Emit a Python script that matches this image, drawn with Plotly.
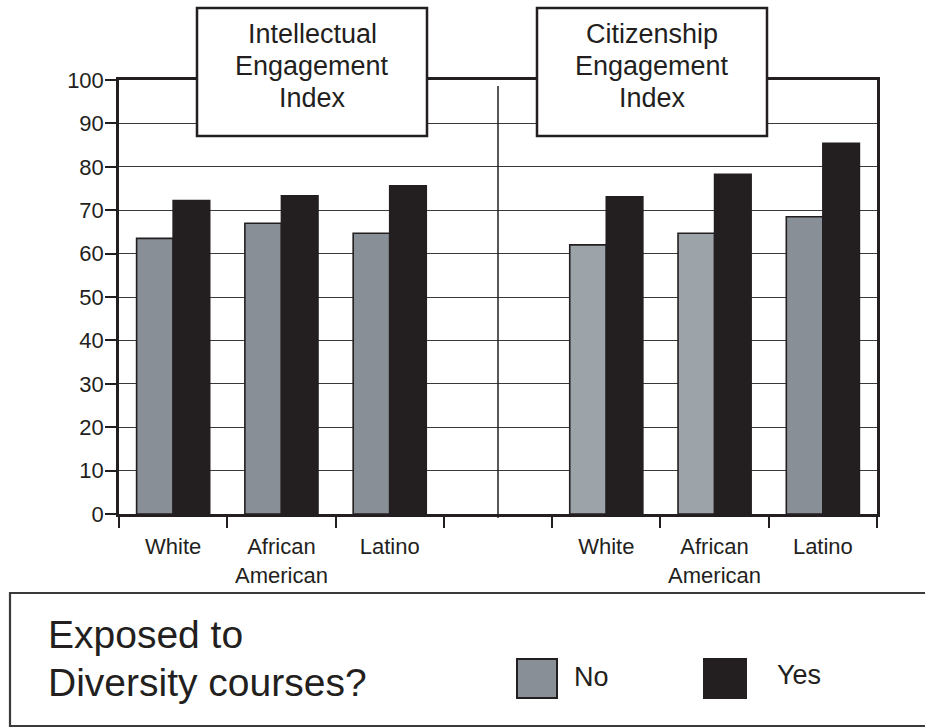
import plotly.graph_objects as go

# ---------------- data ----------------
groups = ["Intellectual<br>Engagement<br>Index", "Citizenship<br>Engagement<br>Index"]
categories = ["White", "African<br>American", "Latino"]
intellectual_no = [63.5, 67.0, 64.7]
intellectual_yes = [72.2, 73.3, 75.6]
citizenship_no = [62.0, 64.7, 68.5]
citizenship_yes = [73.1, 78.3, 85.4]
series_names = ["No", "Yes"]
legend_title = "Exposed to<br>Diversity courses?"
y_ticks = list(range(0, 101, 10))

# ---------------- styling ----------------
FONT = "Liberation Sans, Arial, Helvetica, sans-serif"
DARK = "#231f20"
GRID = "#3a3a3a"
GRAY_DARK = "#888f96"
GRAY_LIGHT = "#9ca3a9"

# plot-area geometry (pixels)
WIDTH, HEIGHT = 925, 727
L, R, T, B = 119, 877, 80, 514
PW, PH = R - L, B - T


def px_x(p):
    return (p - L) / PW


def px_y(p):
    return (B - p) / PH


# positions: left group at 0,1,2 ; gap slot 3 ; right group at 4,5,6
x_left = list(range(len(categories)))
x_right = [i + len(categories) + 1 for i in range(len(categories))]
x_all = x_left + x_right

no_vals = intellectual_no + citizenship_no
yes_vals = intellectual_yes + citizenship_yes
no_colors = [GRAY_DARK] * 3 + [GRAY_LIGHT, GRAY_LIGHT, GRAY_DARK]

fig = go.Figure()
fig.add_trace(go.Bar(
    x=x_all, y=no_vals, name=series_names[0],
    marker=dict(color=no_colors, line=dict(color=DARK, width=1.6)),
))
fig.add_trace(go.Bar(
    x=x_all, y=yes_vals, name=series_names[1],
    marker=dict(color=DARK, line=dict(color=DARK, width=1.6)),
))

n_slots = len(x_all) + 1
fig.update_layout(
    width=WIDTH, height=HEIGHT,
    margin=dict(l=L, r=WIDTH - R, t=T, b=HEIGHT - B, pad=0),
    paper_bgcolor="white", plot_bgcolor="white",
    barmode="group", bargap=0.325, bargroupgap=0,
    showlegend=False,
    font=dict(family=FONT, color=DARK),
    xaxis=dict(
        range=[-0.5, n_slots - 0.5],
        tickmode="array", tickvals=x_all, ticktext=categories * 2,
        ticks="outside", ticklen=11, tickcolor="rgba(0,0,0,0)",
        ticklabelstandoff=0,
        tickfont=dict(size=22, family=FONT, color=DARK),
        minor=dict(tickmode="array",
                   tickvals=[i - 0.5 for i in range(n_slots + 1)],
                   ticks="outside", ticklen=11, tickwidth=1.5,
                   tickcolor=DARK, showgrid=False),
        showline=True, linecolor=DARK, linewidth=2.5, mirror=True,
        showgrid=False, zeroline=False, fixedrange=True,
    ),
    yaxis=dict(
        range=[0, 100], tickmode="array", tickvals=y_ticks,
        ticks="outside", ticklen=11, tickwidth=1.5, tickcolor=DARK,
        ticklabelstandoff=-3,
        tickfont=dict(size=22, family=FONT, color=DARK),
        showline=True, linecolor=DARK, linewidth=2.5, mirror=True,
        showgrid=True, gridcolor=GRID, gridwidth=1.3,
        zeroline=False, fixedrange=True,
    ),
)

shapes = []
annotations = []

# divider between the two indices
shapes.append(dict(type="line", xref="x", yref="paper",
                   x0=len(categories), x1=len(categories),
                   y0=px_y(518), y1=px_y(86),
                   line=dict(color=DARK, width=1.5), layer="above"))

# index title boxes
box_x = [(197, 427), (537, 767)]
box_y = (8, 136)
line_centres = [34, 66, 98]
for (bx0, bx1), title in zip(box_x, groups):
    shapes.append(dict(type="rect", xref="paper", yref="paper",
                       x0=px_x(bx0), x1=px_x(bx1),
                       y0=px_y(box_y[1]), y1=px_y(box_y[0]),
                       fillcolor="white", line=dict(color=DARK, width=2.5),
                       layer="above"))
    for ln, yc in zip(title.split("<br>"), line_centres):
        annotations.append(dict(text=ln, xref="paper", yref="paper",
                                x=px_x((bx0 + bx1) / 2), y=px_y(yc),
                                xanchor="center", yanchor="middle",
                                showarrow=False,
                                font=dict(size=27, family=FONT, color=DARK)))

# legend box
shapes.append(dict(type="rect", xref="paper", yref="paper",
                   x0=px_x(10), x1=px_x(945), y0=px_y(726), y1=px_y(593),
                   fillcolor="rgba(0,0,0,0)", line=dict(color="#3a3a3a", width=2.2),
                   layer="above"))
for ln, yc in zip(legend_title.split("<br>"), [634, 682]):
    annotations.append(dict(text=ln, xref="paper", yref="paper",
                            x=px_x(46), y=px_y(yc),
                            xanchor="left", yanchor="middle", showarrow=False,
                            font=dict(size=39, family=FONT, color=DARK)))

# legend swatches + labels
swatches = [((517, 557), GRAY_DARK, 572, 677), ((704, 746), DARK, 775, 675)]
for ((sx0, sx1), col, tx, ty), name in zip(swatches, series_names):
    shapes.append(dict(type="rect", xref="paper", yref="paper",
                       x0=px_x(sx0), x1=px_x(sx1), y0=px_y(698), y1=px_y(659),
                       fillcolor=col, line=dict(color=DARK, width=2),
                       layer="above"))
    annotations.append(dict(text=name, xref="paper", yref="paper",
                            x=px_x(tx), y=px_y(ty),
                            xanchor="left", yanchor="middle", showarrow=False,
                            font=dict(size=27, family=FONT, color=DARK)))

fig.update_layout(shapes=shapes, annotations=annotations)
fig.write_html(
    "out.html",
    config={"displayModeBar": False},
    post_script="document.body.style.margin='0';document.body.style.padding='0';",
)
